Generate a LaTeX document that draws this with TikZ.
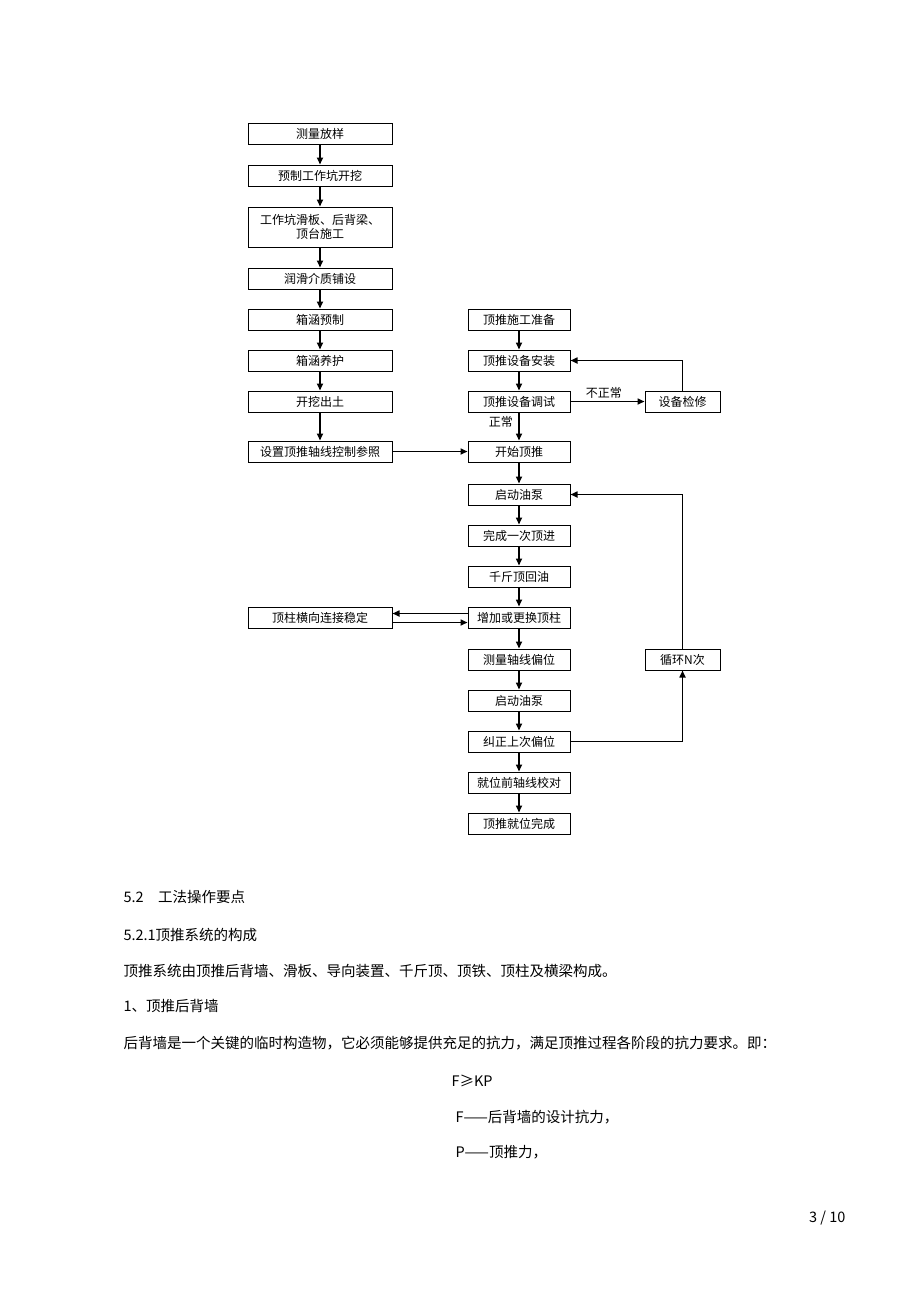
\documentclass[tikz,border=0pt]{standalone}
\usepackage{fontspec}
\setmainfont{Noto Sans CJK SC}
\usetikzlibrary{positioning,arrows.meta}
\tikzset{
  stepbox/.style={draw, line width=1pt, minimum height=21pt, inner sep=1pt, font=\fontsize{12}{14}\selectfont, align=center},
  lbox/.style={stepbox, minimum width=144pt},
  rbox/.style={stepbox, minimum width=102pt},
  sbox/.style={stepbox, minimum width=75pt},
  flow/.style={line width=1.6pt, -{Triangle[length=7pt,width=6pt]}},
  para/.style={anchor=west, font=\fontsize{14.5}{16}\selectfont}
}
\begin{document}
\begin{tikzpicture}[x=1pt,y=-1pt]
\useasboundingbox (0,0) rectangle (920,1302);
% left column
\node[lbox] (m1) at (320,134) {测量放样};
\node[lbox] (m2) at (320,175.5) {预制工作坑开挖};
\node[lbox, minimum height=40pt] (m3) at (320,227) {工作坑滑板、后背梁、\\顶台施工};
\node[lbox] (m4) at (320,278.5) {润滑介质铺设};
\node[lbox] (m5) at (320,319.5) {箱涵预制};
\node[lbox] (m6) at (320,360.5) {箱涵养护};
\node[lbox] (m7) at (320,401.5) {开挖出土};
\node[lbox] (m8) at (320,451.5) {设置顶推轴线控制参照};
\node[lbox] (zz) at (320,617.5) {顶柱横向连接稳定};
% right column
\node[rbox] (r1) at (519,319.5) {顶推施工准备};
\node[rbox] (r2) at (519,360.5) {顶推设备安装};
\node[rbox] (r3) at (519,401.5) {顶推设备调试};
\node[rbox] (r4) at (519,451.5) {开始顶推};
\node[rbox] (r5) at (519,494.5) {启动油泵};
\node[rbox] (r6) at (519,535.5) {完成一次顶进};
\node[rbox] (r7) at (519,576.5) {千斤顶回油};
\node[rbox] (r8) at (519,617.5) {增加或更换顶柱};
\node[rbox] (r9) at (519,659.5) {测量轴线偏位};
\node[rbox] (r10) at (519,700.5) {启动油泵};
\node[rbox] (r11) at (519,741.5) {纠正上次偏位};
\node[rbox] (r12) at (519,782.5) {就位前轴线校对};
\node[rbox] (r13) at (519,823.5) {顶推就位完成};
% far right
\node[sbox] (jx) at (682.5,401.5) {设备检修};
\node[sbox] (xh) at (682.5,659.5) {循环N次};
% connectors
\foreach \a/\b in {m1/m2,m2/m3,m3/m4,m4/m5,m5/m6,m6/m7,m7/m8,
  r1/r2,r2/r3,r4/r5,r5/r6,r6/r7,r7/r8,r8/r9,r9/r10,r10/r11,r11/r12,r12/r13}
  \draw[flow] (\a) -- (\b);
\draw[flow] (r3) -- node[pos=0.35, left=2pt, font=\fontsize{12}{14}\selectfont] {正常} (r4);
\draw[flow] (r3) -- node[above=-1pt, pos=0.45, font=\fontsize{12}{14}\selectfont] {不正常} (jx);
\draw[flow] (jx.north) |- (r2.east);
\draw[flow] (m8) -- (r4);
\draw[flow] (r11.east) -| (xh.south);
\draw[flow] (xh.north) |- (r5.east);
\draw[flow] ([yshift=-5pt]zz.east) -- ([yshift=-5pt]r8.west);
\draw[flow] ([yshift=4pt]r8.west) -- ([yshift=4pt]zz.east);
% text
\node[para] (t1) at (120,897) {5.2\quad 工法操作要点};
\node[para] (t2) at (120,935) {5.2.1顶推系统的构成};
\node[para] (t3) at (120,971) {顶推系统由顶推后背墙、滑板、导向装置、千斤顶、顶铁、顶柱及横梁构成。};
\node[para] (t4) at (120,1006) {1、顶推后背墙};
\node[para] (t5) at (120,1043) {后背墙是一个关键的临时构造物，它必须能够提供充足的抗力，满足顶推过程各阶段的抗力要求。即：};
\node[para] (t6) at (448,1081) {F≥KP};
\node[para] (t7) at (452,1117) {F——后背墙的设计抗力，};
\node[para] (t8) at (452,1152) {P——顶推力，};
\node[para, anchor=east] (pg) at (849,1218) {3 / 10};
\end{tikzpicture}
\end{document}
